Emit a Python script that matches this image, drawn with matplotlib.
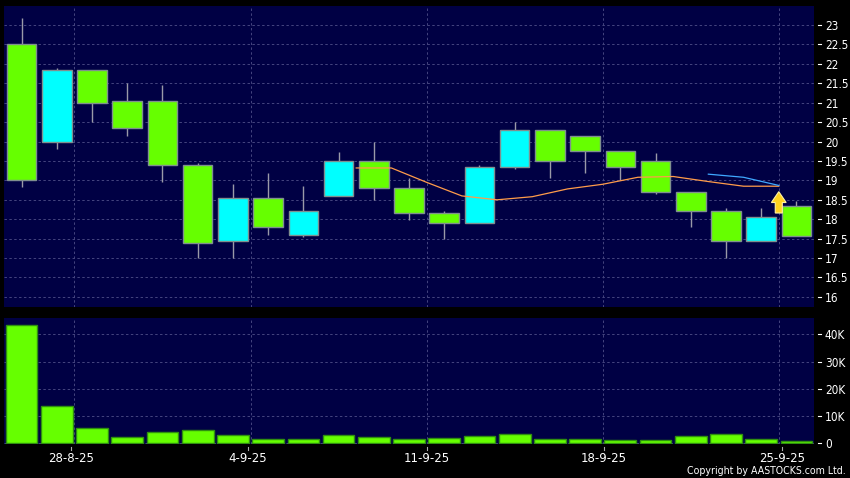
import matplotlib
matplotlib.use("Agg")
import matplotlib.pyplot as plt
import numpy as np

# candle data, top/bottom of body and wicks
body_top = [22.5, 21.85, 21.85, 21.05, 21.05, 19.4, 18.55, 18.55, 18.2, 19.5, 19.5, 18.8,
            18.15, 19.35, 20.3, 20.3, 20.15, 19.75, 19.5, 18.7, 18.2, 18.05, 18.35]
body_bot = [19.0, 20.0, 21.0, 20.35, 19.4, 17.4, 17.45, 17.8, 17.6, 18.6, 18.8, 18.15,
            17.9, 17.9, 19.35, 19.5, 19.75, 19.35, 18.7, 18.2, 17.45, 17.45, 17.57]
high = [23.18, 21.9, 21.85, 21.5, 21.45, 19.45, 18.9, 19.2, 18.85, 19.72, 20.0, 19.05,
        18.2, 19.4, 20.5, 20.3, 20.15, 19.75, 19.7, 18.7, 18.3, 18.3, 18.47]
low = [18.83, 19.8, 20.5, 20.15, 18.95, 17.0, 17.0, 17.6, 17.55, 18.6, 18.5, 17.97,
       17.5, 17.9, 19.3, 19.05, 19.2, 19.0, 18.65, 17.8, 17.0, 17.45, 17.57]
rising = [0, 1, 0, 0, 0, 0, 1, 0, 1, 1, 0, 0, 0, 1, 1, 0, 0, 0, 0, 0, 0, 1, 0]
volume = [43.5, 13.7, 5.5, 2.3, 4.0, 4.7, 3.0, 1.4, 1.4, 2.9, 2.4, 1.4,
          1.9, 2.6, 3.4, 1.5, 1.5, 1.2, 1.3, 2.8, 3.4, 1.7, 0.9]

# moving averages
ma_orange = [19.32, 19.32, 18.95, 18.6, 18.5, 18.58, 18.78, 18.9, 19.08, 19.1, 18.97, 18.85, 18.85]
ma_blue = [19.16, 19.08, 18.87]

date_labels = ["28-8-25", "4-9-25", "11-9-25", "18-9-25", "25-9-25"]
price_ticks = [16, 16.5, 17, 17.5, 18, 18.5, 19, 19.5, 20, 20.5, 21, 21.5, 22, 22.5, 23]
price_labels = ["16", "16.5", "17", "17.5", "18", "18.5", "19", "19.5", "20", "20.5",
                "21", "21.5", "22", "22.5", "23"]
vol_ticks = [0, 10, 20, 30, 40]
vol_labels = ["0", "10K", "20K", "30K", "40K"]

W, H = 850, 478
PANEL = "#000044"
GRID = "#45457f"
GREEN = "#66ff00"
CYAN = "#00ffff"

fig = plt.figure(figsize=(W / 100, H / 100), dpi=100, facecolor="black")
ax = fig.add_axes([4 / W, 1 - 307 / H, 810 / W, 301 / H], facecolor=PANEL)
ax2 = fig.add_axes([4 / W, 1 - 444 / H, 810 / W, 126 / H], facecolor=PANEL)

x = np.arange(len(volume))
colors = [CYAN if r else GREEN for r in rising]
grid_x = [1.5, 6.5, 11.5, 16.5, 21.5]

# price panel
ax.vlines(x, low, high, color="#9a9aa8", lw=1, zorder=3)
ax.bar(x, np.array(body_top) - np.array(body_bot), bottom=body_bot, width=0.84,
       color=colors, edgecolor="#7f8f8f", lw=1, zorder=4)
ax.plot(np.arange(len(ma_orange)) + 9.5, ma_orange, color="#ff9c4a", lw=0.9, zorder=5)
ax.plot(np.arange(len(ma_blue)) + 19.5, ma_blue, color="#3fa8ff", lw=0.9, zorder=5)
ax.arrow(21.5, 18.16, 0, 0.27, width=0.2, head_width=0.42, head_length=0.28,
         length_includes_head=False, color="#ffd21f", ec="#fff3a0", lw=0.8, zorder=6)
ax.set_xlim(-0.5, 22.5)
ax.set_ylim(15.74, 23.49)
ax.set_yticks(price_ticks)
ax.set_yticklabels(price_labels)
ax.set_xticks(grid_x)
ax.tick_params(axis="x", length=0, labelbottom=False)

# volume panel
ax2.bar(x, volume, width=0.9, color=GREEN, edgecolor="#2f8f10", lw=1, zorder=4)
ax2.set_xlim(-0.5, 22.5)
ax2.set_ylim(-0.3, 46)
ax2.set_yticks(vol_ticks)
ax2.set_yticklabels(vol_labels)
ax2.set_xticks(grid_x)
ax2.tick_params(axis="x", length=0, labelbottom=False)

# date ticks sit a little off the gridlines in the original
date_x = [1.4, 6.43, 11.5, 16.54, 21.6]
sec = ax2.secondary_xaxis("bottom")
sec.set_xticks(date_x)
sec.set_xticklabels(date_labels)
sec.tick_params(axis="x", colors="white", length=0, pad=6, labelsize=8.5)
sec.spines["bottom"].set_visible(False)
for d in date_x:
    ax2.plot([d, d], [-3 / 126, -6 / 126], color="#aaaaaa", lw=0.8,
             transform=ax2.get_xaxis_transform(), clip_on=False)

for a in (ax, ax2):
    for s in a.spines.values():
        s.set_visible(False)
    a.yaxis.tick_right()
    a.tick_params(axis="y", length=0, pad=7.9, labelcolor="white", labelsize=8.5)
    for lab in a.get_yticklabels():
        lab.set_fontstretch("condensed")
    # y ticks float clear of the panel
    for t in a.get_yticks():
        a.plot([1 + 4 / 810, 1 + 7 / 810], [t, t], color="white", lw=0.8,
               transform=a.get_yaxis_transform(), clip_on=False)
    a.grid(True, color=GRID, ls=(0, (2.5, 2.5)), lw=0.7, zorder=1)
    a.set_axisbelow(True)

fig.text(846 / W, 1 - 471 / H, "Copyright by AASTOCKS.com Ltd.", color="white",
         fontsize=7.6, ha="right", va="center", fontstretch="condensed")

fig.savefig("out.png", dpi=100, facecolor="black")
